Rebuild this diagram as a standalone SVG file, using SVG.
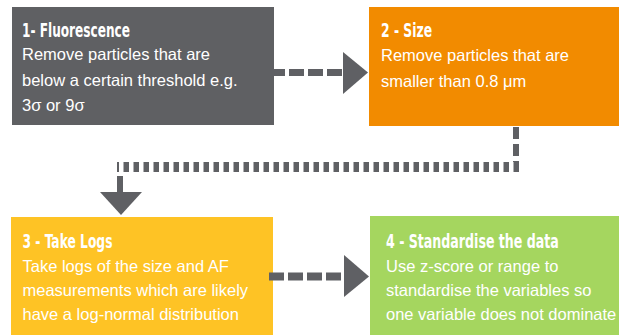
<svg xmlns="http://www.w3.org/2000/svg" width="619" height="335" viewBox="0 0 619 335">
<style>
.title{font-family:"DejaVu Sans Condensed","Liberation Sans Narrow","Liberation Sans",sans-serif;font-weight:bold;font-size:20px;fill:#ffffff}
.body{font-family:"Liberation Sans",Arial,sans-serif;font-size:16.5px;fill:#ffffff}
.conn{fill:none;stroke:#5f6064}
.head{fill:#5f6064}
</style>
<rect width="619" height="335" fill="#ffffff"/>
<g id="node1">
<rect x="12" y="7" width="262" height="118" fill="#5f6063"/>
<text class="title" transform="translate(22,37) scale(0.72,1)" x="0" y="0" textLength="150" lengthAdjust="spacingAndGlyphs">1- Fluorescence</text>
<text class="body" x="22" y="60">Remove particles that are</text>
<text class="body" x="22" y="85.5">below a certain threshold e.g.</text>
<text class="body" x="22" y="111">3σ or 9σ</text>
</g>
<g id="node2">
<rect x="369" y="7" width="250" height="119" fill="#f28b00"/>
<text class="title" transform="translate(381,37) scale(0.72,1)" x="0" y="0" textLength="71" lengthAdjust="spacingAndGlyphs">2 - Size</text>
<text class="body" x="381" y="61">Remove particles that are</text>
<text class="body" x="381" y="87">smaller than 0.8 μm</text>
</g>
<g id="node3">
<rect x="11" y="217" width="262" height="118" fill="#fec325"/>
<text class="title" transform="translate(22.5,248) scale(0.72,1)" x="0" y="0" textLength="125" lengthAdjust="spacingAndGlyphs">3 - Take Logs</text>
<text class="body" x="22.5" y="272">Take logs of the size and AF</text>
<text class="body" x="22.5" y="296">measurements which are likely</text>
<text class="body" x="22.5" y="320">have a log-normal distribution</text>
</g>
<g id="node4">
<rect x="370" y="216" width="249" height="119" fill="#a5d65f"/>
<text class="title" transform="translate(386,248) scale(0.72,1)" x="0" y="0" textLength="240" lengthAdjust="spacingAndGlyphs">4 - Standardise the data</text>
<text class="body" x="386" y="272">Use z-score or range to</text>
<text class="body" x="386" y="296">standardise the variables so</text>
<text class="body" x="386" y="320">one variable does not dominate</text>
</g>
<g id="connectors">
<line class="conn" x1="270" y1="72.5" x2="343" y2="72.5" stroke-width="7" stroke-dasharray="15 4"/>
<polygon class="head" points="343,52 368,72.5 343,94"/>
<line class="conn" x1="516" y1="127" x2="516" y2="162" stroke-width="6" stroke-dasharray="12 5"/>
<line class="conn" x1="519" y1="167" x2="117" y2="167" stroke-width="10" stroke-dasharray="5.5 4.5"/>
<line class="conn" x1="120" y1="176" x2="120" y2="193" stroke-width="6"/>
<polygon class="head" points="100,192 142,192 121,215"/>
<line class="conn" x1="269" y1="276.5" x2="344" y2="276.5" stroke-width="8" stroke-dasharray="15 4"/>
<polygon class="head" points="344,255 369,276.5 344,297"/>
</g>
</svg>
